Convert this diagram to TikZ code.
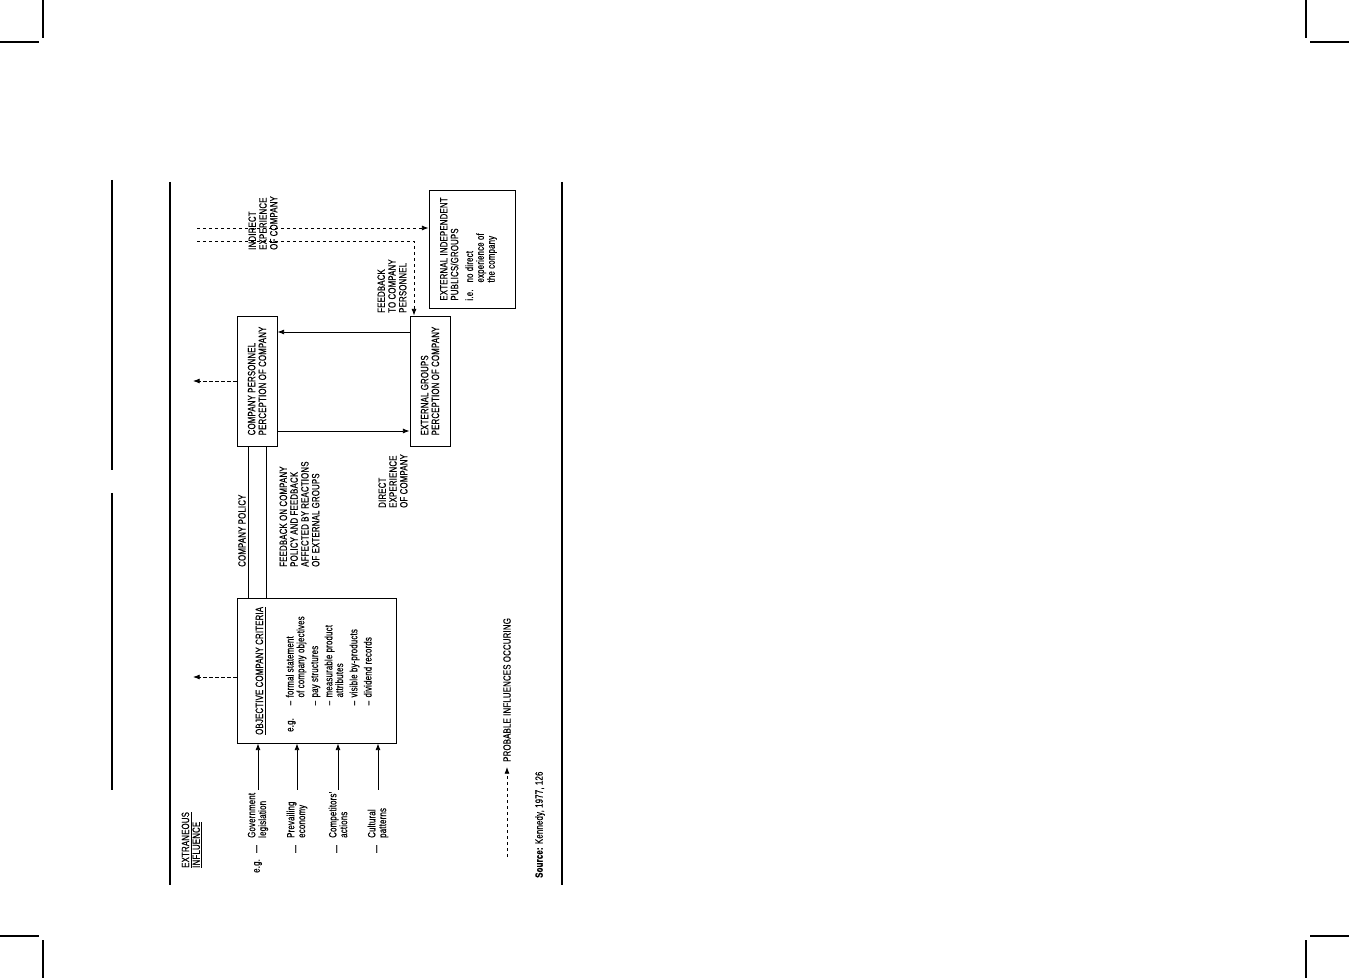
\documentclass[tikz,border=0pt]{standalone}
\usepackage{fontspec}
\setmainfont{Liberation Sans}[FakeStretch=0.74, FakeBold=0.6, LetterSpace=2]
\usetikzlibrary{arrows.meta,calc}

\begin{document}
\begin{tikzpicture}[
    x=0.03cm, y=-0.03cm, rotate=90, transform shape,
    box/.style={draw, line width=0.8pt, inner sep=0pt, align=left,
                font=\fontsize{9}{9.2}\selectfont},
    lbl/.style={inner sep=0pt, align=left, anchor=west,
                font=\fontsize{9}{9.2}\selectfont},
    inflbl/.style={lbl, text width=1.44cm},
    arr/.style={-{Latex[length=2mm,width=1.5mm]}, line width=0.7pt},
    dasharr/.style={arr, dash pattern=on 1mm off 0.8mm},
    rule/.style={line width=0.9pt}
]
\useasboundingbox (0,0) rectangle (978,1349);

% crop marks and page rules
\draw[rule] (978,43) -- (940,43) (936,0) -- (936,39);
\draw[rule] (978,1306) -- (940,1306) (936,1310) -- (936,1349);
\draw[rule] (38,43) -- (0,43) (42,0) -- (42,39);
\draw[rule] (38,1306) -- (0,1306) (42,1310) -- (42,1349);
\draw[rule] (798,112) -- (508,112) (485,112) -- (188,112);
\draw[rule] (796,170) -- (93,170);
\draw[rule] (796,562) -- (93,562);

% boxes
\node[box, minimum width=4.35cm, minimum height=4.77cm] (occ) at (307.5,316.5) {};
\node[box, minimum width=3.9cm, minimum height=1.2cm] (cp) at (597,257)
    {COMPANY PERSONNEL\\PERCEPTION OF COMPANY};
\node[box, minimum width=3.9cm, minimum height=1.2cm] (eg) at (597,430)
    {EXTERNAL GROUPS\\PERCEPTION OF COMPANY};
\node[box, minimum width=3.54cm, minimum height=2.58cm] (eip) at (729,472)
    {EXTERNAL INDEPENDENT\\PUBLICS/GROUPS\\[5pt]
     \begin{tabular}{@{}l@{\hspace{6pt}}l@{}}
     i.e. & no direct\\ & experience of\\ & the company
     \end{tabular}\\[4pt]};

% inside the criteria box
\node[lbl, anchor=base west] (occtitle) at (243,263) {\underline{OBJECTIVE COMPANY CRITERIA}};
\node[lbl, anchor=base west, font=\fontsize{9}{8.8}\selectfont] (occlist) at (246,293.5)
    {\begin{tabular}[t]{@{}l@{\hspace{11pt}}l@{\hspace{3pt}}l@{}}
     e.g. & -- & formal statement\\
          &    & of company objectives\\[3pt]
          & -- & pay structures\\[3pt]
          & -- & measurable product\\
          &    & attributes\\[3pt]
          & -- & visible by-products\\[3pt]
          & -- & dividend records
     \end{tabular}};

% extraneous influences
\node[lbl] (extr) at (110,192) {\underline{EXTRANEOUS}\\\underline{INFLUENCE}};
\node[lbl] (egtxt) at (105,258) {e.g.};
\foreach \v/\txt [count=\i] in {258/{Government\\legislation}, 297/{Prevailing\\economy},
                                338/{Competitors'\\actions}, 378/{Cultural\\patterns}} {
  \node[lbl, anchor=center] (dash\i) at (129,\v) {---};
  \node[inflbl] (inf\i) at (140,\v) {\txt};
  \draw[arr] (inf\i.east) -- (occ.west |- inf\i.east);
}

% company policy link
\coordinate (pol1) at ($(cp.west)+(0,-9)$);
\coordinate (pol2) at ($(cp.west)+(0,9)$);
\draw[line width=0.7pt] (pol1) -- (occ.east |- pol1);
\draw[line width=0.7pt] (pol2) -- (occ.east |- pol2);
\node[lbl] (policy) at (411,242) {COMPANY POLICY};
\node[lbl] (fbpolicy) at (411,299.5)
    {FEEDBACK ON COMPANY\\POLICY AND FEEDBACK\\AFFECTED BY REACTIONS\\OF EXTERNAL GROUPS};

% personnel <-> external groups
\draw[arr] ($(eg.north)+(49,0)$) -- ($(cp.south)+(49,0)$);
\draw[arr] ($(cp.south)+(-50,0)$) -- ($(eg.north)+(-50,0)$);
\node[lbl] (direct) at (470,393) {DIRECT\\EXPERIENCE\\OF COMPANY};

% probable influences
\coordinate (occup) at (301,193);
\coordinate (cpup) at (597,193);
\draw[dasharr] (occup |- occ.north) -- (occup);
\draw[dasharr] (cp.north) -- (cpup);

\coordinate (ind1) at (750,197);
\coordinate (ind2) at (737,197);
\coordinate (fbkend) at ($(eg.east)+(0,-16)$);
\draw[dasharr] (ind1) -- (ind1 |- eip.north);
\draw[dasharr] (ind2) |- (fbkend);
\node[lbl] (indirect) at (728,263) {INDIRECT\\EXPERIENCE\\OF COMPANY};
\node[lbl] (fbpers) at (665,392) {FEEDBACK\\TO COMPANY\\PERSONNEL};

% legend and source
\coordinate (legstart) at (121,507);
\node[lbl] (legend) at (216,507) {PROBABLE INFLUENCES OCCURING};
\draw[dasharr, shorten >=1.5mm] (legstart) -- (legend);
\node[lbl] (source) at (100,540) {\textbf{Source:} Kennedy, 1977, 126};

\end{tikzpicture}
\end{document}
